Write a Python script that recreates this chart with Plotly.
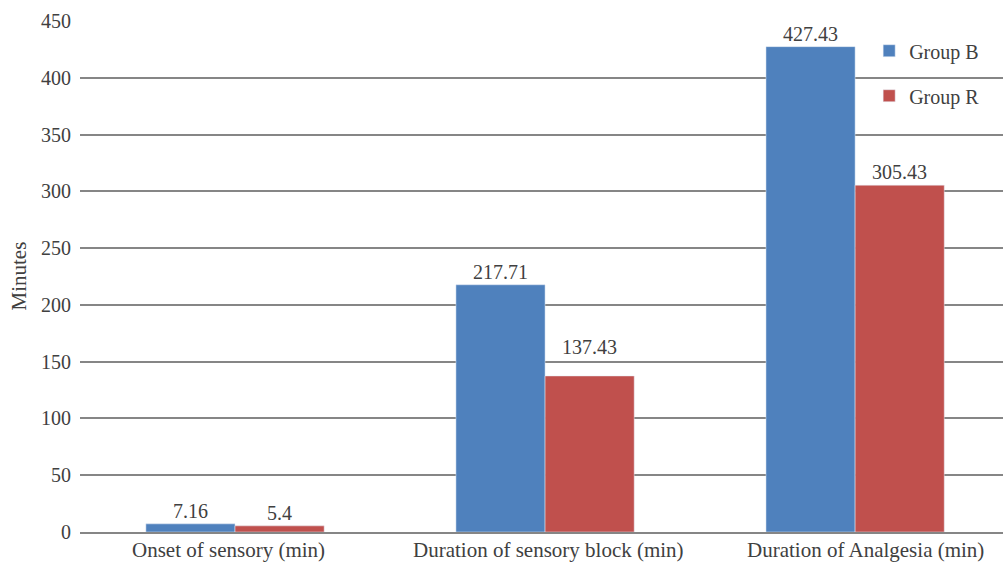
import plotly.graph_objects as go

categories = ["Onset of sensory (min)", "Duration of sensory block (min)", "Duration of Analgesia (min)"]
group_b = [7.16, 217.71, 427.43]
group_r = [5.4, 137.43, 305.43]
# extra lift (px) for each value label above its bar
lift_b = [0, 0, 0]
lift_r = [0, 16, 0]
# horizontal nudge (px) of each category label
cat_nudge = [-7, 3, 10]
y_ticks = [0, 50, 100, 150, 200, 250, 300, 350, 400, 450]

FONT = "Liberation Serif"
TEXT = "#404040"
SIZE = 20
BAR_SHIFT = 44.5

fig = go.Figure()
fig.add_trace(go.Bar(name="Group B", x=categories, y=group_b, marker_color="#4F81BD",
                     legendgroup="b"))
fig.add_trace(go.Bar(name="Group R", x=categories, y=group_r, marker_color="#C0504D",
                     legendgroup="r"))

# value labels above the bars
for vals, lifts, shift in ((group_b, lift_b, -BAR_SHIFT), (group_r, lift_r, BAR_SHIFT)):
    for cat, v, lift in zip(categories, vals, lifts):
        fig.add_annotation(x=cat, y=v, xref="x", yref="y", text=f"{v:g}",
                           showarrow=False, yanchor="bottom", xshift=shift,
                           yshift=lift, font=dict(family=FONT, size=SIZE, color=TEXT))

# category labels under the axis
for cat, nudge in zip(categories, cat_nudge):
    fig.add_annotation(x=cat, y=0, xref="x", yref="paper", text=cat, showarrow=False,
                       yanchor="middle", yshift=-18, xshift=nudge,
                       font=dict(family=FONT, size=21, color=TEXT))

# rotated axis title
fig.add_annotation(x=0, y=0.5, xref="paper", yref="paper", text="Minutes", showarrow=False,
                   textangle=-90, xanchor="center", yanchor="middle", xshift=-62,
                   font=dict(family=FONT, size=21, color=TEXT))

fig.update_layout(
    width=1003, height=568,
    margin=dict(l=80, r=0, t=21, b=36),
    paper_bgcolor="white", plot_bgcolor="white",
    font=dict(family=FONT, size=SIZE, color=TEXT),
    barmode="group", bargap=0.425, bargroupgap=0,
    legend=dict(
        x=0.855, y=0.98, xanchor="left", yanchor="top",
        bgcolor="rgba(0,0,0,0)", traceorder="grouped",
        tracegroupgap=16, font=dict(family=FONT, size=SIZE, color=TEXT),
    ),
    xaxis=dict(range=[-0.5, 2.477], showgrid=False, showline=True, linecolor="#868686",
               linewidth=1.5, ticks="", showticklabels=False),
    yaxis=dict(range=[0, 450], tickvals=y_ticks, showgrid=True, gridcolor="#868686",
               gridwidth=1.5, zeroline=False, ticks="", ticklen=0, ticklabelstandoff=8,
               tickfont=dict(family=FONT, size=SIZE, color=TEXT)),
)

fig.write_html("out.html")
